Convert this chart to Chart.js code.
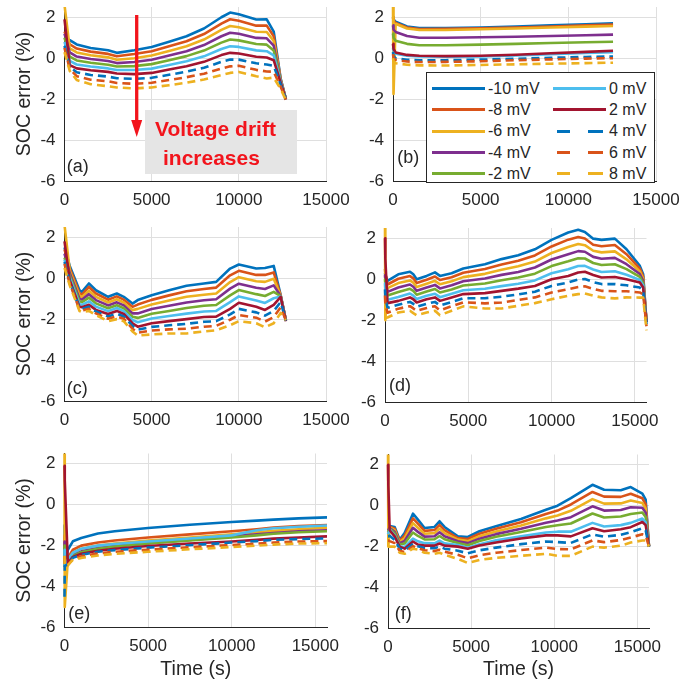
<!DOCTYPE html>
<html><head><meta charset="utf-8">
<script src="https://cdn.jsdelivr.net/npm/chart.js@4"></script>
<style>
html,body{margin:0;padding:0;background:#fff;}
#wrap{position:relative;width:695px;height:689px;overflow:hidden;font-family:"Liberation Sans",Arial,sans-serif;}
#wrap canvas{position:absolute;left:0;top:0;}
.plabel{position:absolute;font-size:18px;line-height:18px;color:#262626;transform:translate(-50%,-50%);white-space:nowrap;z-index:5;}
#legend{position:absolute;left:426px;top:72px;width:227px;height:109px;border:1px solid #262626;background:#fff;z-index:5;}
.lgline{position:absolute;height:3px;}
.lgtext{position:absolute;font-size:16px;line-height:16px;color:#262626;white-space:nowrap;}
#note{position:absolute;left:145px;top:110px;width:152px;height:64px;background:#e5e5e5;z-index:5;}
.nt{position:absolute;font-size:21px;line-height:21px;font-weight:bold;color:#f2141c;white-space:nowrap;z-index:6;}
#arrow{position:absolute;left:0;top:0;z-index:6;}
</style></head><body>
<div id="wrap"></div>
<script>
// ---------- data ----------
const seriesLabels = ['-10 mV','-8 mV','-6 mV','-4 mV','-2 mV','0 mV','2 mV','4 mV','6 mV','8 mV'];
const xTickVals = [0, 5000, 10000, 15000];
const yTickVals = [-6, -4, -2, 0, 2];

// panel (a)
const timeA = [0, 300, 700, 1500, 2500, 3000, 4000, 5000, 6000, 7000, 8000, 9000, 9500, 10000, 11000, 11600, 12000, 12400, 12700];
const a_m10 = [1.0, 0.88, 0.67, 0.50, 0.39, 0.26, 0.39, 0.55, 0.80, 1.07, 1.45, 2.00, 2.23, 2.15, 1.89, 1.90, 1.30, -1.00, -2.00];
const a_m8  = [1.3, 0.68, 0.47, 0.32, 0.21, 0.09, 0.20, 0.34, 0.58, 0.83, 1.18, 1.69, 1.90, 1.83, 1.59, 1.59, 1.07, -1.03, -2.00];
const a_m6  = [2.6, 0.48, 0.28, 0.14, 0.04, -0.08, 0.00, 0.13, 0.35, 0.58, 0.91, 1.38, 1.57, 1.51, 1.29, 1.28, 0.84, -1.06, -2.00];
const a_m4  = [1.2, 0.28, 0.08, -0.04, -0.14, -0.24, -0.19, -0.08, 0.13, 0.34, 0.64, 1.07, 1.24, 1.19, 0.99, 0.97, 0.61, -1.09, -2.00];
const a_m2  = [1.0, 0.08, -0.11, -0.22, -0.32, -0.41, -0.39, -0.29, -0.10, 0.10, 0.37, 0.76, 0.91, 0.87, 0.69, 0.66, 0.38, -1.12, -2.00];
const a_0   = [0.8, -0.13, -0.31, -0.41, -0.50, -0.58, -0.58, -0.51, -0.33, -0.15, 0.09, 0.45, 0.58, 0.55, 0.38, 0.34, 0.14, -1.15, -2.00];
const a_p2  = [1.9, -0.34, -0.50, -0.59, -0.67, -0.75, -0.78, -0.72, -0.55, -0.39, -0.18, 0.15, 0.26, 0.23, 0.07, 0.03, -0.10, -1.20, -2.00];
const a_p4  = [0.6, -0.43, -0.69, -0.82, -0.90, -0.98, -1.01, -0.96, -0.81, -0.66, -0.47, -0.18, -0.07, -0.07, -0.25, -0.31, -0.38, -1.30, -2.02];
const a_p6  = [0.5, -0.52, -0.88, -1.05, -1.13, -1.21, -1.25, -1.20, -1.07, -0.93, -0.76, -0.51, -0.40, -0.37, -0.57, -0.65, -0.66, -1.40, -2.03];
const a_p8  = [0.3, -0.62, -1.07, -1.27, -1.37, -1.43, -1.48, -1.43, -1.32, -1.20, -1.04, -0.83, -0.72, -0.67, -0.88, -0.99, -0.95, -1.50, -2.05];

// panel (b)
const timeB = [0, 30, 150, 800, 1500, 3000, 5000, 7000, 9000, 11000, 12550];
const b_m10 = [2.0, 1.90, 1.78, 1.55, 1.47, 1.47, 1.50, 1.55, 1.60, 1.65, 1.70];
const b_m8  = [2.0, 1.85, 1.72, 1.50, 1.42, 1.43, 1.46, 1.50, 1.55, 1.60, 1.64];
const b_m6  = [2.6, -1.75, 1.68, 1.45, 1.38, 1.38, 1.41, 1.45, 1.50, 1.54, 1.57];
const b_m4  = [1.6, 1.40, 1.28, 1.08, 1.00, 1.00, 1.02, 1.05, 1.08, 1.12, 1.15];
const b_m2  = [1.2, 1.00, 0.85, 0.70, 0.63, 0.63, 0.66, 0.70, 0.74, 0.78, 0.80];
const b_0   = [0.5, 0.35, 0.22, 0.12, 0.08, 0.07, 0.09, 0.13, 0.19, 0.25, 0.29];
const b_p2  = [0.7, 0.45, 0.28, 0.16, 0.12, 0.10, 0.12, 0.17, 0.24, 0.31, 0.36];
const b_p4  = [0.3, 0.10, 0.00, -0.08, -0.10, -0.10, -0.07, -0.03, 0.02, 0.06, 0.08];
const b_p6  = [0.2, 0.00, -0.08, -0.16, -0.19, -0.18, -0.15, -0.10, -0.06, -0.02, 0.00];
const b_p8  = [0.0, -0.15, -0.25, -0.32, -0.35, -0.36, -0.33, -0.30, -0.27, -0.24, -0.22];

// panel (c)
const timeC = [0, 300, 860, 1000, 1400, 1800, 2500, 3000, 3400, 3900, 4200, 5000, 6000, 7000, 8000, 8700, 9500, 10000, 11000, 11500, 12000, 12400, 12700];
const c_m10 = [1.5, 0.60, -0.59, -0.67, -0.26, -0.59, -0.91, -0.75, -0.91, -1.24, -1.07, -0.83, -0.59, -0.37, -0.26, -0.18, 0.47, 0.67, 0.47, 0.50, 0.60, -0.83, -2.05];
const c_m8  = [1.4, 0.48, -0.73, -0.80, -0.43, -0.75, -1.05, -0.89, -1.05, -1.40, -1.29, -1.06, -0.84, -0.64, -0.53, -0.46, 0.14, 0.36, 0.16, 0.16, 0.28, -0.84, -2.06];
const c_m6  = [2.6, 0.37, -0.86, -0.92, -0.61, -0.91, -1.19, -1.03, -1.19, -1.56, -1.50, -1.29, -1.09, -0.91, -0.81, -0.75, -0.19, 0.05, -0.15, -0.18, -0.03, -0.86, -2.06];
const c_m4  = [1.2, 0.25, -1.00, -1.05, -0.78, -1.07, -1.33, -1.18, -1.33, -1.72, -1.72, -1.51, -1.35, -1.19, -1.08, -1.03, -0.51, -0.27, -0.47, -0.53, -0.35, -0.87, -2.07];
const c_m2  = [1.0, 0.13, -1.13, -1.17, -0.95, -1.23, -1.47, -1.32, -1.47, -1.88, -1.94, -1.74, -1.60, -1.46, -1.35, -1.31, -0.84, -0.58, -0.78, -0.87, -0.67, -0.88, -2.08];
const c_0   = [0.9, 0.02, -1.27, -1.30, -1.13, -1.39, -1.61, -1.46, -1.61, -2.04, -2.15, -1.97, -1.85, -1.73, -1.63, -1.60, -1.17, -0.89, -1.09, -1.21, -0.98, -0.90, -2.09];
const c_p2  = [1.8, -0.10, -1.40, -1.42, -1.30, -1.55, -1.75, -1.60, -1.75, -2.20, -2.37, -2.20, -2.10, -2.00, -1.90, -1.88, -1.50, -1.20, -1.40, -1.55, -1.30, -0.91, -2.10];
const c_p4  = [0.8, -0.18, -1.47, -1.50, -1.40, -1.63, -1.87, -1.73, -1.87, -2.33, -2.51, -2.38, -2.30, -2.23, -2.13, -2.10, -1.77, -1.50, -1.67, -1.83, -1.60, -1.17, -2.07];
const c_p6  = [0.7, -0.26, -1.53, -1.58, -1.50, -1.72, -1.98, -1.87, -1.98, -2.47, -2.66, -2.56, -2.50, -2.47, -2.37, -2.33, -2.03, -1.80, -1.93, -2.12, -1.90, -1.43, -2.06];
const c_p8  = [0.5, -0.35, -1.60, -1.65, -1.60, -1.80, -2.10, -2.00, -2.10, -2.60, -2.80, -2.75, -2.70, -2.70, -2.60, -2.55, -2.30, -2.10, -2.20, -2.40, -2.20, -1.70, -2.05];

// panel (d)
const timeD = [0, 20, 150, 800, 1500, 1700, 1900, 2500, 3000, 3300, 4000, 4700, 6000, 7000, 8000, 9000, 10000, 11000, 11600, 12000, 12500, 13000, 13800, 14500, 15300, 15500, 15700];
const d_m10 = [0.3, 0.2, -0.08, 0.24, 0.36, 0.24, 0.00, 0.16, 0.33, 0.16, 0.29, 0.52, 0.73, 0.98, 1.17, 1.46, 1.92, 2.28, 2.41, 2.31, 1.98, 1.92, 1.98, 1.46, 0.65, 0.24, -2.10];
const d_m8  = [0.5, 0.3, -0.26, 0.02, 0.15, 0.04, -0.19, -0.03, 0.13, -0.04, 0.09, 0.31, 0.50, 0.72, 0.90, 1.16, 1.60, 1.93, 2.06, 1.99, 1.68, 1.61, 1.67, 1.22, 0.52, 0.13, -2.10];
const d_m6  = [2.6, -2.0, -0.44, -0.19, -0.06, -0.17, -0.38, -0.22, -0.08, -0.25, -0.10, 0.10, 0.26, 0.46, 0.63, 0.86, 1.28, 1.57, 1.72, 1.66, 1.39, 1.31, 1.36, 0.97, 0.38, 0.02, -2.10];
const d_m4  = [0.2, 0.0, -0.62, -0.41, -0.26, -0.37, -0.57, -0.41, -0.28, -0.45, -0.30, -0.10, 0.03, 0.21, 0.35, 0.57, 0.96, 1.22, 1.37, 1.34, 1.09, 1.00, 1.04, 0.73, 0.25, -0.08, -2.10];
const d_m2  = [0.0, -0.2, -0.80, -0.63, -0.47, -0.57, -0.76, -0.60, -0.48, -0.65, -0.50, -0.31, -0.21, -0.05, 0.08, 0.27, 0.64, 0.87, 1.02, 1.01, 0.79, 0.69, 0.73, 0.49, 0.11, -0.19, -2.10];
const d_0   = [-0.2, -0.5, -1.00, -0.87, -0.70, -0.80, -0.97, -0.81, -0.71, -0.88, -0.71, -0.54, -0.47, -0.34, -0.22, -0.06, 0.29, 0.48, 0.64, 0.65, 0.47, 0.35, 0.39, 0.22, -0.04, -0.31, -2.10];
const d_p2  = [2.0, 1.0, -1.17, -1.06, -0.89, -0.98, -1.14, -0.98, -0.89, -1.06, -0.89, -0.73, -0.68, -0.57, -0.46, -0.33, 0.00, 0.16, 0.33, 0.36, 0.20, 0.08, 0.11, 0.00, -0.16, -0.41, -2.10];
const d_p4  = [-0.5, -0.9, -1.40, -1.25, -1.11, -1.21, -1.35, -1.20, -1.11, -1.29, -1.11, -0.93, -0.93, -0.86, -0.74, -0.61, -0.33, -0.16, -0.02, 0.01, -0.14, -0.24, -0.24, -0.30, -0.41, -0.57, -2.20];
const d_p6  = [-0.8, -1.2, -1.64, -1.44, -1.32, -1.43, -1.55, -1.41, -1.32, -1.53, -1.32, -1.13, -1.18, -1.14, -1.02, -0.89, -0.65, -0.49, -0.38, -0.35, -0.47, -0.57, -0.59, -0.59, -0.65, -0.74, -2.30];
const d_p8  = [-1.9, -1.9, -1.87, -1.63, -1.54, -1.66, -1.76, -1.63, -1.54, -1.76, -1.54, -1.33, -1.43, -1.43, -1.30, -1.17, -0.98, -0.81, -0.73, -0.70, -0.81, -0.89, -0.94, -0.89, -0.90, -0.90, -2.50];

// panel (e)
const timeE = [0, 15, 200, 500, 1000, 2000, 3000, 5000, 7500, 10000, 11500, 12500, 14000, 15700];
const e_m10 = [-1.0, -3.0, -2.20, -1.79, -1.63, -1.41, -1.30, -1.14, -0.98, -0.85, -0.78, -0.73, -0.67, -0.62];
const e_m8  = [-1.5, -3.0, -2.60, -2.20, -2.00, -1.85, -1.75, -1.60, -1.45, -1.30, -1.20, -1.12, -1.05, -1.00];
const e_m6  = [2.6, -5.0, -2.70, -2.35, -2.15, -2.00, -1.90, -1.75, -1.60, -1.45, -1.35, -1.28, -1.20, -1.12];
const e_m4  = [-1.8, -3.0, -2.75, -2.45, -2.28, -2.12, -2.02, -1.88, -1.72, -1.55, -1.45, -1.38, -1.30, -1.25];
const e_m2  = [-2.0, -3.0, -2.80, -2.50, -2.32, -2.15, -2.05, -1.90, -1.75, -1.60, -1.50, -1.42, -1.35, -1.30];
const e_0   = [-2.2, -3.0, -2.70, -2.35, -2.15, -2.00, -1.92, -1.80, -1.65, -1.50, -1.25, -1.15, -1.08, -1.02];
const e_p2  = [1.9, 1.2, -2.85, -2.55, -2.40, -2.25, -2.15, -2.02, -1.90, -1.80, -1.72, -1.66, -1.60, -1.55];
const e_p4  = [-4.5, -3.0, -2.90, -2.60, -2.45, -2.30, -2.22, -2.10, -1.98, -1.85, -1.78, -1.72, -1.68, -1.65];
const e_p6  = [-2.5, -3.0, -2.95, -2.65, -2.52, -2.38, -2.30, -2.20, -2.08, -1.97, -1.90, -1.85, -1.80, -1.78];
const e_p8  = [-2.5, -3.0, -2.95, -2.70, -2.60, -2.48, -2.40, -2.30, -2.18, -2.07, -2.00, -1.95, -1.90, -1.88];

// panel (f)
const timeF = [0, 20, 100, 400, 700, 1000, 1500, 1800, 2200, 2800, 3100, 3400, 4200, 4800, 5500, 6500, 8000, 9500, 10200, 11000, 12300, 13000, 14000, 14600, 15300, 15500, 15700];
const f_m10 = [-1.0, -1.0, -1.00, -1.04, -1.66, -1.33, -0.39, -0.68, -1.09, -1.04, -0.76, -1.04, -1.50, -1.53, -1.25, -1.00, -0.65, -0.20, 0.00, 0.37, 1.02, 0.78, 0.75, 0.91, 0.59, 0.29, -1.98];
const f_m8  = [-1.1, -1.1, -1.03, -1.12, -1.72, -1.46, -0.62, -0.88, -1.23, -1.19, -0.94, -1.19, -1.58, -1.63, -1.37, -1.13, -0.81, -0.41, -0.24, 0.06, 0.67, 0.44, 0.43, 0.58, 0.36, 0.08, -1.98];
const f_m6  = [2.6, -2.0, -1.06, -1.20, -1.78, -1.59, -0.85, -1.08, -1.37, -1.34, -1.12, -1.34, -1.66, -1.73, -1.49, -1.26, -0.97, -0.62, -0.48, -0.25, 0.32, 0.10, 0.11, 0.25, 0.13, -0.13, -1.98];
const f_m4  = [-1.2, -1.2, -1.09, -1.28, -1.84, -1.72, -1.08, -1.28, -1.51, -1.49, -1.30, -1.49, -1.74, -1.83, -1.61, -1.39, -1.13, -0.83, -0.72, -0.56, -0.03, -0.24, -0.21, -0.08, -0.10, -0.34, -1.99];
const f_m2  = [-1.3, -1.3, -1.12, -1.36, -1.90, -1.85, -1.31, -1.48, -1.65, -1.64, -1.48, -1.64, -1.82, -1.93, -1.73, -1.52, -1.29, -1.04, -0.96, -0.87, -0.38, -0.58, -0.53, -0.41, -0.33, -0.55, -1.99];
const f_0   = [-1.4, -1.4, -1.16, -1.46, -1.98, -2.02, -1.61, -1.74, -1.83, -1.84, -1.71, -1.84, -1.92, -2.06, -1.89, -1.69, -1.50, -1.31, -1.27, -1.27, -0.84, -1.02, -0.95, -0.84, -0.63, -0.82, -2.00];
const f_p2  = [2.0, 1.0, -1.20, -1.50, -2.00, -2.10, -1.75, -1.90, -1.95, -1.95, -1.85, -1.95, -2.00, -2.10, -1.95, -1.80, -1.60, -1.45, -1.45, -1.50, -1.10, -1.25, -1.15, -1.05, -0.80, -0.95, -2.00];
const f_p4  = [-1.5, -1.5, -1.47, -1.67, -2.10, -2.18, -1.87, -1.98, -2.07, -2.08, -2.00, -2.10, -2.20, -2.33, -2.18, -2.05, -1.88, -1.75, -1.78, -1.82, -1.40, -1.52, -1.42, -1.30, -1.10, -1.20, -2.00];
const f_p6  = [-1.7, -1.7, -1.73, -1.83, -2.20, -2.27, -1.98, -2.07, -2.18, -2.22, -2.15, -2.25, -2.40, -2.57, -2.42, -2.30, -2.17, -2.05, -2.12, -2.13, -1.70, -1.78, -1.68, -1.55, -1.40, -1.45, -2.00];
const f_p8  = [-2.0, -2.0, -2.00, -2.00, -2.30, -2.35, -2.10, -2.15, -2.30, -2.35, -2.30, -2.40, -2.60, -2.80, -2.65, -2.55, -2.45, -2.35, -2.45, -2.45, -2.00, -2.05, -1.95, -1.80, -1.70, -1.70, -2.00];

// ---------- styles ----------
const FONT = '"Liberation Sans", Arial, sans-serif';
const colors = ['#0072BD','#D95319','#EDB120','#7E2F8E','#77AC30','#4DBEEE','#A2142F','#0072BD','#D95319','#EDB120'];
const dashed = [false,false,false,false,false,false,false,true,true,true];
const W = 695, H = 689;

const panels = [
  {name:'(a)', time:timeA, series:[a_m10,a_m8,a_m6,a_m4,a_m2,a_0,a_p2,a_p4,a_p6,a_p8], xmax:15000, L:64.5, R:326, T:7, B:181, yT:true, xT:false, lab:[77.7,165.7]},
  {name:'(b)', time:timeB, series:[b_m10,b_m8,b_m6,b_m4,b_m2,b_0,b_p2,b_p4,b_p6,b_p8], xmax:15000, L:393, R:656, T:7, B:181, yT:false, xT:false, lab:[408.3,156.7]},
  {name:'(c)', time:timeC, series:[c_m10,c_m8,c_m6,c_m4,c_m2,c_0,c_p2,c_p4,c_p6,c_p8], xmax:15000, L:64.5, R:326, T:227, B:401, yT:true, xT:false, lab:[77.3,388.3]},
  {name:'(d)', time:timeD, series:[d_m10,d_m8,d_m6,d_m4,d_m2,d_0,d_p2,d_p4,d_p6,d_p8], xmax:15700, L:385, R:646.5, T:228, B:402, yT:false, xT:false, lab:[400,385]},
  {name:'(e)', time:timeE, series:[e_m10,e_m8,e_m6,e_m4,e_m2,e_0,e_p2,e_p4,e_p6,e_p8], xmax:15700, L:64.5, R:327, T:453.5, B:627.5, yT:true, xT:true, lab:[79.3,613.3]},
  {name:'(f)', time:timeF, series:[f_m10,f_m8,f_m6,f_m4,f_m2,f_0,f_p2,f_p4,f_p6,f_p8], xmax:15700, L:388, R:649, T:454.5, B:628.5, yT:false, xT:true, lab:[403.3,613.3]}
];

const wrap = document.getElementById('wrap');

function makeDatasets(time, list) {
  return list.map((vals, i) => ({
    label: seriesLabels[i],
    data: time.map((t, k) => ({x: t, y: vals[k]})),
    borderColor: colors[i],
    borderWidth: 2.6,
    borderDash: dashed[i] ? [8, 5] : [],
    pointRadius: 0,
    fill: false,
    tension: 0,
    order: -i,
    clip: {left: 3, top: 0, right: 3, bottom: 2},
    borderJoinStyle: 'round'
  }));
}

panels.forEach((p, idx) => {
  const cv = document.createElement('canvas');
  cv.width = W; cv.height = H;
  cv.style.width = W + 'px'; cv.style.height = H + 'px';
  cv.style.zIndex = 1 + idx;
  wrap.appendChild(cv);
  new Chart(cv.getContext('2d'), {
    type: 'line',
    data: {datasets: makeDatasets(p.time, p.series)},
    options: {
      responsive: false, animation: false, devicePixelRatio: 1, events: [],
      layout: {padding: {left: 0, top: p.T, right: W - p.R, bottom: 0}},
      plugins: {legend: {display: false}, tooltip: {enabled: false}},
      scales: {
        x: {
          type: 'linear', min: 0, max: p.xmax,
          afterBuildTicks: s => { s.ticks = xTickVals.map(v => ({value: v})); },
          afterFit: s => { s.height = H - p.B; s.paddingLeft = 0; s.paddingRight = 0; },
          grid: {color: '#dfdfdf', lineWidth: 1, drawTicks: false},
          border: {display: true, color: '#262626', width: 1},
          ticks: {color: '#262626', font: {family: FONT, size: 17}, padding: 9, maxRotation: 0, autoSkip: false, callback: v => String(v)},
          title: {display: p.xT, text: 'Time (s)', color: '#262626', font: {family: FONT, size: 19.5}, padding: {top: 0, bottom: 7.3}}
        },
        y: {
          type: 'linear', min: -6, max: 2.5,
          afterBuildTicks: s => { s.ticks = yTickVals.map(v => ({value: v})); },
          afterFit: s => { s.width = p.L; s.paddingTop = 0; s.paddingBottom = 0; },
          grid: {color: '#dfdfdf', lineWidth: 1, drawTicks: false},
          border: {display: true, color: '#262626', width: 1},
          ticks: {color: '#262626', font: {family: FONT, size: 17}, padding: 9, autoSkip: false, callback: v => String(v)},
          title: {display: p.yT, text: 'SOC error (%)', color: '#262626', font: {family: FONT, size: 19.5}, padding: {top: 13.3, bottom: 0}}
        }
      }
    }
  });
  const lb = document.createElement('div');
  lb.className = 'plabel';
  lb.textContent = p.name;
  lb.style.left = p.lab[0] + 'px';
  lb.style.top = p.lab[1] + 'px';
  wrap.appendChild(lb);
});

// legend (panel b)
const legend = document.createElement('div');
legend.id = 'legend';
wrap.appendChild(legend);
const rowY = [15.3, 36.3, 58, 79.7, 100.7];
seriesLabels.forEach((lab, i) => {
  const col = i < 5 ? 0 : 1;
  const row = i % 5;
  const lineLeft = col === 0 ? 5 : 126;
  const textLeft = col === 0 ? 61 : 182;
  const y = rowY[row];
  if (dashed[i]) {
    [[4, 13], [35, 15]].forEach(([o, w]) => {
      const d = document.createElement('div');
      d.className = 'lgline';
      d.style.left = (lineLeft + o) + 'px'; d.style.width = w + 'px';
      d.style.top = (y - 1.5) + 'px'; d.style.background = colors[i];
      legend.appendChild(d);
    });
  } else {
    const d = document.createElement('div');
    d.className = 'lgline';
    d.style.left = lineLeft + 'px'; d.style.width = '53px';
    d.style.top = (y - 1.5) + 'px'; d.style.background = colors[i];
    legend.appendChild(d);
  }
  const t = document.createElement('div');
  t.className = 'lgtext';
  t.textContent = lab;
  t.style.left = textLeft + 'px';
  t.style.top = (y - 7.8) + 'px';
  legend.appendChild(t);
});

// annotation in panel (a)
const note = document.createElement('div');
note.id = 'note';
wrap.appendChild(note);
[['Voltage drift', 155, 118.3], ['increases', 163, 147.3]].forEach(([txt, x, y]) => {
  const d = document.createElement('div');
  d.className = 'nt';
  d.textContent = txt;
  d.style.left = x + 'px'; d.style.top = y + 'px';
  wrap.appendChild(d);
});
const svgNS = 'http://www.w3.org/2000/svg';
const svg = document.createElementNS(svgNS, 'svg');
svg.setAttribute('id', 'arrow');
svg.setAttribute('width', W); svg.setAttribute('height', H);
const ln = document.createElementNS(svgNS, 'line');
ln.setAttribute('x1', 136.7); ln.setAttribute('y1', 15);
ln.setAttribute('x2', 136.7); ln.setAttribute('y2', 124);
ln.setAttribute('stroke', '#f2141c'); ln.setAttribute('stroke-width', 3.3);
svg.appendChild(ln);
const hd = document.createElementNS(svgNS, 'polygon');
hd.setAttribute('points', '131.2,120 142.2,120 136.7,137');
hd.setAttribute('fill', '#f2141c');
svg.appendChild(hd);
wrap.appendChild(svg);
</script>
</body></html>
